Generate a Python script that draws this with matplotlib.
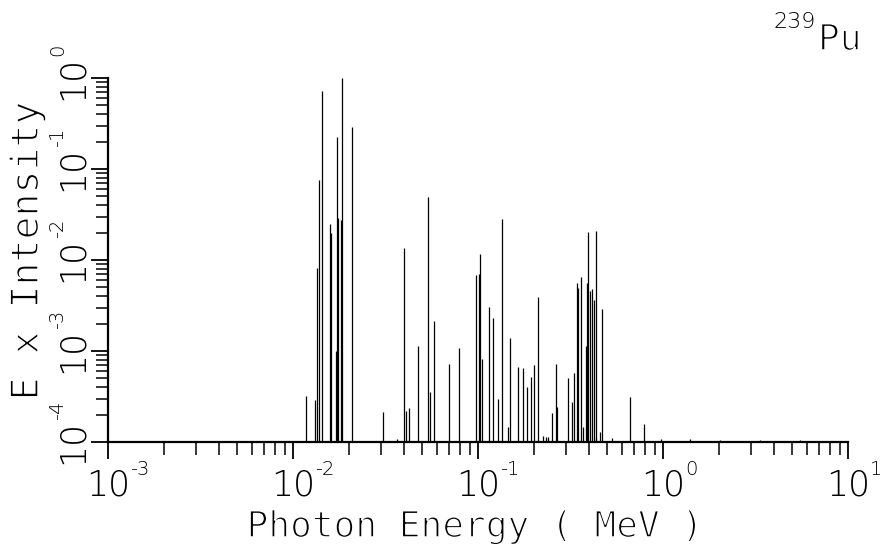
import matplotlib
matplotlib.use('Agg')
import matplotlib.pyplot as plt
import matplotlib.patheffects as pe
from matplotlib.ticker import LogLocator, NullFormatter

plt.rcParams['font.family'] = 'DejaVu Sans'
plt.rcParams['font.weight'] = 'light'

# photon line energies (MeV) and E x intensity
energy = [0.01175, 0.01315, 0.01343, 0.01388, 0.01429, 0.01585, 0.01611,
          0.01701, 0.01736, 0.01758, 0.01811, 0.01840, 0.02084,
          0.03076, 0.03650, 0.03981, 0.04066, 0.04236, 0.04740, 0.05347,
          0.05503, 0.05784, 0.06972, 0.07925, 0.09815, 0.1013, 0.1029,
          0.1055, 0.1147, 0.1198, 0.1287, 0.1343, 0.1447, 0.1489, 0.1651,
          0.1744, 0.1840, 0.1934, 0.2000, 0.2110, 0.2245, 0.2331, 0.2390,
          0.2503, 0.2630, 0.2663, 0.3054, 0.3222, 0.3316, 0.3417, 0.3485,
          0.3591, 0.3709, 0.3821, 0.3869, 0.3917, 0.4030, 0.4116, 0.4236,
          0.4327, 0.4370, 0.4564, 0.4697, 0.530, 0.6631, 0.7894, 0.9755,
          1.40, 2.03, 3.34, 5.50]
intensity = [3.20e-4, 2.89e-4, 8.17e-3, 7.57e-2, 0.719, 2.49e-2, 1.98e-2,
             1.00e-3, 0.2246, 2.89e-2, 2.75e-2, 1.0, 0.2893,
             2.14e-4, 1.08e-4, 1.355e-2, 2.19e-4, 2.36e-4, 1.135e-3, 4.92e-2,
             3.54e-4, 2.14e-3, 7.20e-4, 1.08e-3, 6.84e-3, 7.02e-3, 1.164e-2,
             8.17e-4, 3.04e-3, 2.31e-3, 2.97e-4, 2.82e-2, 1.46e-4, 1.39e-3, 6.67e-4,
             6.51e-4, 4.02e-4, 5.18e-4, 7.02e-4, 3.92e-3, 1.16e-4, 1.13e-4, 1.13e-4,
             2.08e-4, 7.20e-4, 2.42e-4, 5.05e-4, 2.75e-4, 5.73e-4, 5.59e-3, 4.92e-3,
             6.50e-3, 1.46e-4, 1.135e-3, 5.59e-3, 2.03e-2, 4.56e-3, 4.80e-3, 3.63e-3,
             2.08e-2, 1.11e-4, 1.29e-4, 2.89e-3, 1.11e-4, 3.12e-4, 1.58e-4, 1.08e-4,
             1.08e-4, 1.05e-4, 1.05e-4, 1.05e-4]

x_decades = [-3, -2, -1, 0, 1]
y_decades = [-4, -3, -2, -1, 0]

fig = plt.figure(figsize=(8.84, 5.52), dpi=100)
ax = fig.add_axes([108/884, 1 - 442/552, 740/884, 364/552])
ax.set_xscale('log')
ax.set_yscale('log')
ax.set_xlim(1e-3, 1e1)
ax.set_ylim(1e-4, 1e0)

ax.vlines(energy, 1e-4, intensity, colors='black', linewidth=0.9)

for side in ['top', 'right']:
    ax.spines[side].set_visible(False)
for side in ['left', 'bottom']:
    ax.spines[side].set_linewidth(1.6)

ax.xaxis.set_minor_locator(LogLocator(base=10, subs=range(2, 10), numticks=20))
ax.yaxis.set_minor_locator(LogLocator(base=10, subs=range(2, 10), numticks=20))
ax.xaxis.set_minor_formatter(NullFormatter())
ax.yaxis.set_minor_formatter(NullFormatter())
ax.tick_params(which='major', direction='out', length=12, width=1.3, color='black')
ax.tick_params(which='minor', direction='out', length=9, width=1.1, color='black')
ax.tick_params(labelbottom=False, labelleft=False)

# tick labels: "10" centred on the tick, exponent hung off to the side
for e in x_decades:
    ax.annotate('10', xy=(10.0**e, 0), xycoords=('data', 'axes fraction'),
                xytext=(0, -54), textcoords='offset pixels',
                ha='center', va='baseline', fontsize=25)
    ax.annotate(str(e), xy=(10.0**e, 0), xycoords=('data', 'axes fraction'),
                xytext=(22, -33), textcoords='offset pixels',
                ha='left', va='baseline', fontsize=14)
for e in y_decades:
    ax.annotate('10', xy=(0, 10.0**e), xycoords=('axes fraction', 'data'),
                xytext=(-25, 0), textcoords='offset pixels', rotation=90,
                rotation_mode='anchor', ha='center', va='baseline', fontsize=25)
    ax.annotate(str(e), xy=(0, 10.0**e), xycoords=('axes fraction', 'data'),
                xytext=(-45, 22), textcoords='offset pixels', rotation=90,
                rotation_mode='anchor', ha='left', va='baseline', fontsize=14)

# monospaced titles, thinned with a white outline to look like plotter lettering
thin = [pe.Stroke(linewidth=1.1, foreground='white')]
fig.text(475/884, 1 - 537/552, 'Photon Energy ( MeV )', ha='center', va='baseline',
         fontsize=26, family='DejaVu Sans Mono', weight='normal', path_effects=thin)
fig.text(28/884, 1 - 251/552, 'E x Intensity', rotation=90, ha='center', va='center',
         fontsize=27.5, family='DejaVu Sans Mono', weight='normal', path_effects=thin)

fig.text(816/884, 1 - 28/552, '239', ha='right', va='baseline', fontsize=16)
fig.text(818/884, 1 - 50/552, 'Pu', ha='left', va='baseline', fontsize=26,
         family='DejaVu Sans Mono', weight='normal', path_effects=thin)

fig.savefig('out.png', dpi=100, facecolor='white')
